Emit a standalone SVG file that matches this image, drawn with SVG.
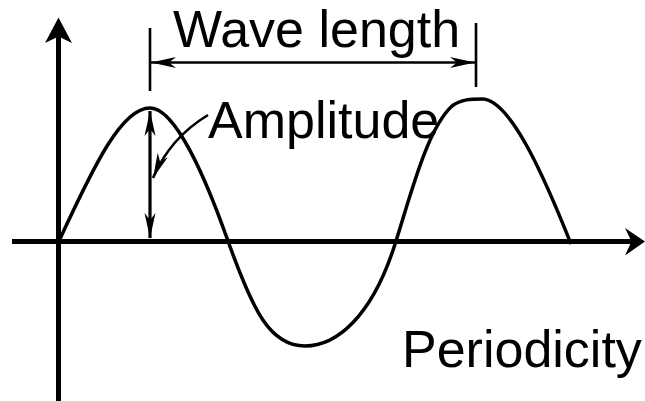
<svg xmlns="http://www.w3.org/2000/svg" width="645" height="401" viewBox="0 0 645 401">
  <style>
    .lbl { font-family: "Liberation Sans", Arial, sans-serif; font-size: 52px; fill: #000; }
    .axis { stroke: #000; stroke-width: 5; fill: none; }
    .wave { stroke: #000; stroke-width: 3.5; fill: none; stroke-linejoin: round; }
    .dim { stroke: #000; stroke-width: 2.6; fill: none; }
    .amp { stroke: #000; stroke-width: 3.2; fill: none; }
    .head { fill: #000; stroke: none; }
  </style>
  <defs>
    <marker id="thin" markerUnits="userSpaceOnUse" viewBox="-26 -6 27 12" refX="0" refY="0" markerWidth="27" markerHeight="12" orient="auto-start-reverse" overflow="visible">
      <path d="M0,0 L-25,-5.5 L-18,0 L-25,5.5 Z" fill="#000"/>
    </marker>
  </defs>
  <rect width="645" height="401" fill="#fff"/>
  <g id="axes">
    <line class="axis" x1="58.5" y1="36" x2="58.5" y2="401"/>
    <path class="head" d="M58.5,17.5 L72,43 L58.5,36.5 L45,43 Z"/>
    <line class="axis" x1="12" y1="241.5" x2="632" y2="241.5"/>
    <path class="head" d="M645,241.5 L625,255.5 L631.5,241.5 L625,228 Z"/>
  </g>
  <g id="wave">
    <path class="wave" d="M59,241 C95,163 122,108 150,108 C175,108 205,176 228,241 C253,311 270,346 305,346 C335,346 372,319 396,241 C412,190 428,128 452,106 C461,99 472,99 482,99 C510,99 544,176 571,244"/>
  </g>
  <g id="connectors">
    <g id="wavelength-dim">
      <line class="dim" x1="150" y1="28" x2="150" y2="91"/>
      <line class="dim" x1="476" y1="23" x2="476" y2="87"/>
      <line class="dim" x1="151" y1="62.5" x2="475" y2="62.5" marker-start="url(#thin)" marker-end="url(#thin)"/>
    </g>
    <g id="amplitude-dim">
      <line class="amp" x1="150" y1="111" x2="150" y2="238" marker-start="url(#thin)" marker-end="url(#thin)"/>
      <path class="dim" d="M208,115 Q170,138 153,178" marker-end="url(#thin)"/>
    </g>
  </g>
  <g id="label-wavelength"><text class="lbl" x="173" y="47">Wave length</text></g>
  <g id="label-amplitude"><text class="lbl" x="208" y="138">Amplitude</text></g>
  <g id="label-periodicity"><text class="lbl" x="402" y="367">Periodicity</text></g>
</svg>
